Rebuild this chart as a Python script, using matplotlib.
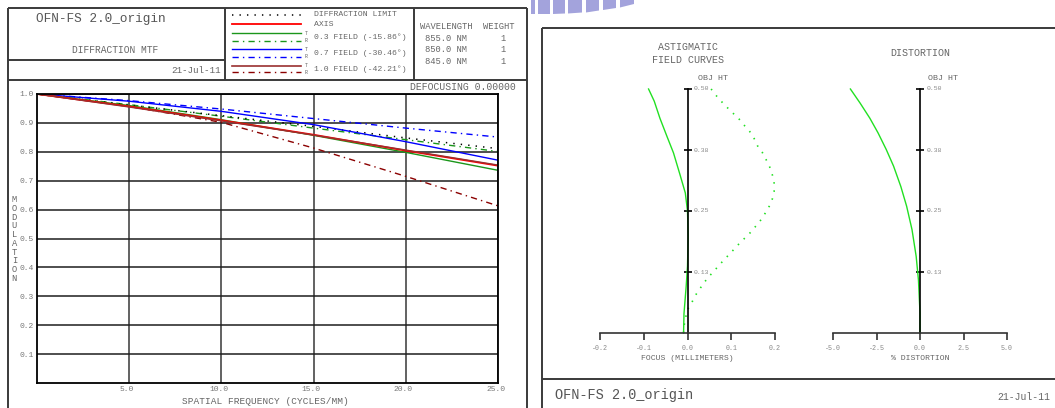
import matplotlib
matplotlib.use("Agg")
import matplotlib.pyplot as plt
from matplotlib.patches import Polygon
from matplotlib.transforms import ScaledTranslation

plt.rcParams['font.family'] = ['Liberation Mono', 'DejaVu Sans Mono']
plt.rcParams['axes.unicode_minus'] = False

W, H, DPI = 1055, 408, 100

# ---------------- MTF data ----------------
freq = [0, 5, 10, 15, 20, 25]
mtf_diffraction = [1.0, 0.962, 0.925, 0.888, 0.848, 0.811]
mtf_axis = [1.0, 0.957, 0.909, 0.859, 0.804, 0.752]
mtf_f03_tan = [1.0, 0.960, 0.911, 0.857, 0.798, 0.736]
mtf_f03_rad = [1.0, 0.963, 0.923, 0.882, 0.842, 0.801]
mtf_f07_tan = [1.0, 0.975, 0.940, 0.894, 0.835, 0.771]
mtf_f07_rad = [1.0, 0.977, 0.948, 0.915, 0.882, 0.851]
mtf_f10_tan = [1.0, 0.955, 0.907, 0.858, 0.806, 0.754]
mtf_f10_rad = [1.0, 0.957, 0.902, 0.813, 0.715, 0.613]

freq_ticks = [5, 10, 15, 20, 25]
freq_labels = ["5.0", "10.0", "15.0", "20.0", "25.0"]
mod_ticks = [0.1, 0.2, 0.3, 0.4, 0.5, 0.6, 0.7, 0.8, 0.9, 1.0]
mod_labels = ["0.1", "0.2", "0.3", "0.4", "0.5", "0.6", "0.7", "0.8", "0.9", "1.0"]

field_labels = ["0.3 FIELD (-15.86\u00b0)", "0.7 FIELD (-30.46\u00b0)", "1.0 FIELD (-42.21\u00b0)"]
wavelengths = ["855.0 NM", "850.0 NM", "845.0 NM"]
weights = ["1", "1", "1"]

# ---------------- field curves ----------------
obj_ht_tan = [0.0, 0.040, 0.096, 0.137, 0.198, 0.250, 0.287, 0.324, 0.369, 0.403, 0.440, 0.475, 0.500]
focus_tan = [-0.009, -0.008, -0.003, 0.0, 0.0015, 0.0, -0.005, -0.017, -0.032, -0.047, -0.063, -0.076, -0.089]

obj_ht_sag = [0.0, 0.014, 0.029, 0.048, 0.061, 0.077, 0.089, 0.102, 0.115, 0.126, 0.140, 0.150,
              0.162, 0.173, 0.186, 0.197, 0.207, 0.220, 0.232, 0.246, 0.260, 0.275, 0.290,
              0.307, 0.321, 0.338, 0.353, 0.370, 0.380, 0.403, 0.417, 0.428, 0.443, 0.451,
              0.461, 0.473, 0.485, 0.500]
focus_sag = [-0.009, -0.008, -0.005, 0.0, 0.009, 0.018, 0.027, 0.037, 0.048, 0.060, 0.073, 0.084,
             0.096, 0.108, 0.121, 0.134, 0.145, 0.157, 0.168, 0.178, 0.187, 0.194, 0.198,
             0.198, 0.195, 0.189, 0.181, 0.171, 0.162, 0.150, 0.139, 0.127, 0.114, 0.103,
             0.092, 0.079, 0.067, 0.054]

focus_ticks = [-0.2, -0.1, 0.0, 0.1, 0.2]
focus_labels = ["-0.2", "-0.1", "0.0", "0.1", "0.2"]
obj_ht_ticks = [0.125, 0.25, 0.375, 0.5]
obj_ht_labels = ["0.13", "0.25", "0.38", "0.50"]

# ---------------- distortion ----------------
obj_ht_dist = [0.0, 0.041, 0.109, 0.157, 0.212, 0.260, 0.300, 0.342, 0.376, 0.410, 0.440, 0.471, 0.500]
distortion = [0.0, 0.0, -0.09, -0.22, -0.46, -0.77, -1.10, -1.52, -1.94, -2.41, -2.88, -3.44, -4.00]
dist_ticks = [-5.0, -2.5, 0.0, 2.5, 5.0]
dist_labels = ["-5.0", "-2.5", "0.0", "2.5", "5.0"]

# ---------------- styles ----------------
DASHDOT = (0, (4.5, 3.0, 1.0, 3.0))
DOTTED = (0, (0.9, 4.0))
C_RED = '#ff0000'
C_GREEN = '#1b961b'
C_BLUE = '#0000ff'
C_DRED_T = '#9a3030'
C_DRED_R = '#8b0000'
C_LIME = '#22e022'
TXT = '#666666'
FRAME = '#3a3a3a'

fig = plt.figure(figsize=(W / DPI, H / DPI), dpi=DPI, facecolor='white')


def px_axes(x0, y0, x1, y1):
    return fig.add_axes([x0 / W, 1 - y1 / H, (x1 - x0) / W, (y1 - y0) / H])


# overlay in pixel coordinates for frames and annotations
ov = px_axes(0, 0, W, H)
ov.set_xlim(0, W)
ov.set_ylim(H, 0)
ov.axis('off')


def seg(x0, y0, x1, y1, color=FRAME, lw=1.4, **kw):
    ov.plot([x0, x1], [y0, y1], color=color, lw=lw, solid_capstyle='butt', **kw)


def txt(x, y, s, size, ha='left', color=TXT, **kw):
    ov.text(x, y, s, fontsize=size, ha=ha, va='center', color=color, **kw)


# logo fragment at the top
stripes = [(531, 535, 14, 14), (538, 550, 14, 14), (553, 565, 14, 13.5), (568, 582, 13.5, 12.5),
           (586, 599, 12.5, 10.5), (603, 616, 10, 8), (620, 634, 7.5, 4)]
for xl, xr, bl, br in stripes:
    ov.add_patch(Polygon([(xl, 0), (xr, 0), (xr, br), (xl, bl)], closed=True,
                         facecolor='#a3a3dc', edgecolor='none'))

# ---- left panel frame ----
seg(8, 8, 527, 8)
seg(8, 8, 8, H)
seg(527, 8, 527, H)
seg(8, 80, 527, 80)
seg(8, 59.5, 225, 59.5)
seg(225, 8, 225, 80)
seg(414, 8, 414, 80)

txt(101, 19, "OFN-FS 2.0_origin", 9.2, ha='center', color='#555555')
txt(115, 50, "DIFFRACTION MTF", 6.9, ha='center')
txt(221, 70.5, "21-Jul-11", 6.7, ha='right')

# legend samples
LX0, LX1 = 232, 301
ov.plot([LX0, LX1], [14.7, 14.7], color='black', lw=1.1, linestyle=DOTTED)
ov.plot([LX0, LX1], [24, 24], color=C_RED, lw=1.3)
ov.plot([LX0, LX1], [33.3, 33.3], color=C_GREEN, lw=1.0)
ov.plot([LX0, LX1], [40.7, 40.7], color=C_GREEN, lw=1.0, linestyle=DASHDOT)
ov.plot([LX0, LX1], [49.3, 49.3], color=C_BLUE, lw=1.0)
ov.plot([LX0, LX1], [56.7, 56.7], color=C_BLUE, lw=1.0, linestyle=DASHDOT)
ov.plot([LX0, LX1], [65.7, 65.7], color=C_DRED_T, lw=1.2)
ov.plot([LX0, LX1], [72, 72], color=C_DRED_R, lw=1.0, linestyle=DASHDOT)

txt(314, 14.5, "DIFFRACTION LIMIT", 5.9)
txt(314, 24, "AXIS", 5.9)
for row_y, lab in zip([36.8, 52.8, 68.8], field_labels):
    txt(314, row_y, lab, 5.9)
    txt(306.5, row_y - 3.4, "T", 3.6, ha='center')
    txt(306.5, row_y + 3.6, "R", 3.6, ha='center')

txt(420, 26.5, "WAVELENGTH  WEIGHT", 6.3)
for row_y, wl, wt in zip([38.7, 49.5, 61], wavelengths, weights):
    txt(425, row_y, wl, 6.3)
    txt(503, row_y, wt, 6.3, ha='center')

txt(516, 86.5, "DEFOCUSING 0.00000", 7.0, ha='right')
txt(265, 401, "SPATIAL FREQUENCY (CYCLES/MM)", 6.8, ha='center')
ov.text(14.3, 239, "\n".join("MODULATION"), fontsize=6.3, ha='center', va='center',
        color=TXT, linespacing=0.97)

# ---- MTF plot ----
ax = px_axes(37, 94, 498, 383)
ax.patch.set_visible(False)
ax.set_xlim(0, 25)
ax.set_ylim(0, 1.0)
ax.set_xticks(freq_ticks)
ax.set_xticklabels(freq_labels)
ax.set_yticks(mod_ticks)
ax.set_yticklabels(mod_labels)
ax.tick_params(length=0, labelsize=5.8, labelcolor='#777777', pad=2.5)
ax.xaxis.grid(True, color='#555555', lw=1.3)
ax.yaxis.grid(True, color='#1e1e1e', lw=1.1)
ax.set_axisbelow(True)
for sp in ax.spines.values():
    sp.set_color('black')
    sp.set_linewidth(1.3)
shift = ScaledTranslation(-2.5 / DPI, 0, fig.dpi_scale_trans)
for lab in ax.get_xticklabels():
    lab.set_transform(lab.get_transform() + shift)

ax.plot(freq, mtf_f10_rad, color=C_DRED_R, lw=1.0, linestyle=DASHDOT)
ax.plot(freq, mtf_f07_rad, color=C_BLUE, lw=1.0, linestyle=DASHDOT)
ax.plot(freq, mtf_f03_rad, color=C_GREEN, lw=1.0, linestyle=DASHDOT)
ax.plot(freq, mtf_diffraction, color='black', lw=1.1, linestyle=DOTTED)
ax.plot(freq, mtf_f07_tan, color=C_BLUE, lw=1.0)
ax.plot(freq, mtf_f03_tan, color=C_GREEN, lw=1.0)
ax.plot(freq, mtf_axis, color=C_RED, lw=1.3)
ax.plot(freq, mtf_f10_tan, color=C_DRED_T, lw=1.0)

# ---- right panel frame ----
seg(542, 28, W, 28)
seg(542, 28, 542, H)
seg(542, 379, W, 379)
txt(555, 395, "OFN-FS 2.0_origin", 9.8, color='#555555')
txt(1050, 397, "21-Jul-11", 7.0, ha='right')

txt(687.5, 47, "ASTIGMATIC", 7.2, ha='center')
txt(687.5, 60, "FIELD CURVES", 7.2, ha='center')
txt(920, 53, "DISTORTION", 7.2, ha='center')
txt(697.5, 79, "OBJ HT", 6.0)
txt(927.5, 79, "OBJ HT", 6.0)
txt(687.5, 359, "FOCUS (MILLIMETERS)", 5.9, ha='center')
txt(920, 359, "% DISTORTION", 5.9, ha='center')


def ray_axes(box, xlim, xticks, xlabels):
    a = px_axes(*box)
    a.patch.set_visible(False)
    a.set_xlim(*xlim)
    a.set_ylim(0, 0.5)
    a.spines['top'].set_visible(False)
    a.spines['right'].set_visible(False)
    a.spines['left'].set_position(('data', 0))
    for key in ('left', 'bottom'):
        a.spines[key].set_color('black')
        a.spines[key].set_linewidth(1.2)
    a.spines['bottom'].set_color('#333333')
    a.set_xticks(xticks)
    a.set_xticklabels(xlabels)
    a.tick_params(axis='x', direction='out', length=5, width=1.2, color='#333333',
                  labelsize=4.8, labelcolor='#888888', pad=4)
    a.set_yticks(obj_ht_ticks)
    a.set_yticklabels([])
    a.tick_params(axis='y', direction='inout', length=6, width=1.2, color='black')
    for v, lab in zip(obj_ht_ticks, obj_ht_labels):
        a.annotate(lab, (0, v), xytext=(4.5, 0), textcoords='offset points',
                   fontsize=4.6, color='#888888', va='center', ha='left')
    return a


fa = ray_axes((600, 89, 775, 333), (-0.2, 0.2), focus_ticks, focus_labels)
fa.plot(focus_tan, obj_ht_tan, color=C_LIME, lw=1.0, clip_on=False)
fa.plot(focus_sag, obj_ht_sag, color=C_LIME, lw=1.2, linestyle=DOTTED, clip_on=False)

da = ray_axes((833, 89, 1007, 333), (-5.0, 5.0), dist_ticks, dist_labels)
da.plot(distortion, obj_ht_dist, color=C_LIME, lw=1.0, clip_on=False)

fig.savefig("out.png", dpi=DPI, facecolor='white')
